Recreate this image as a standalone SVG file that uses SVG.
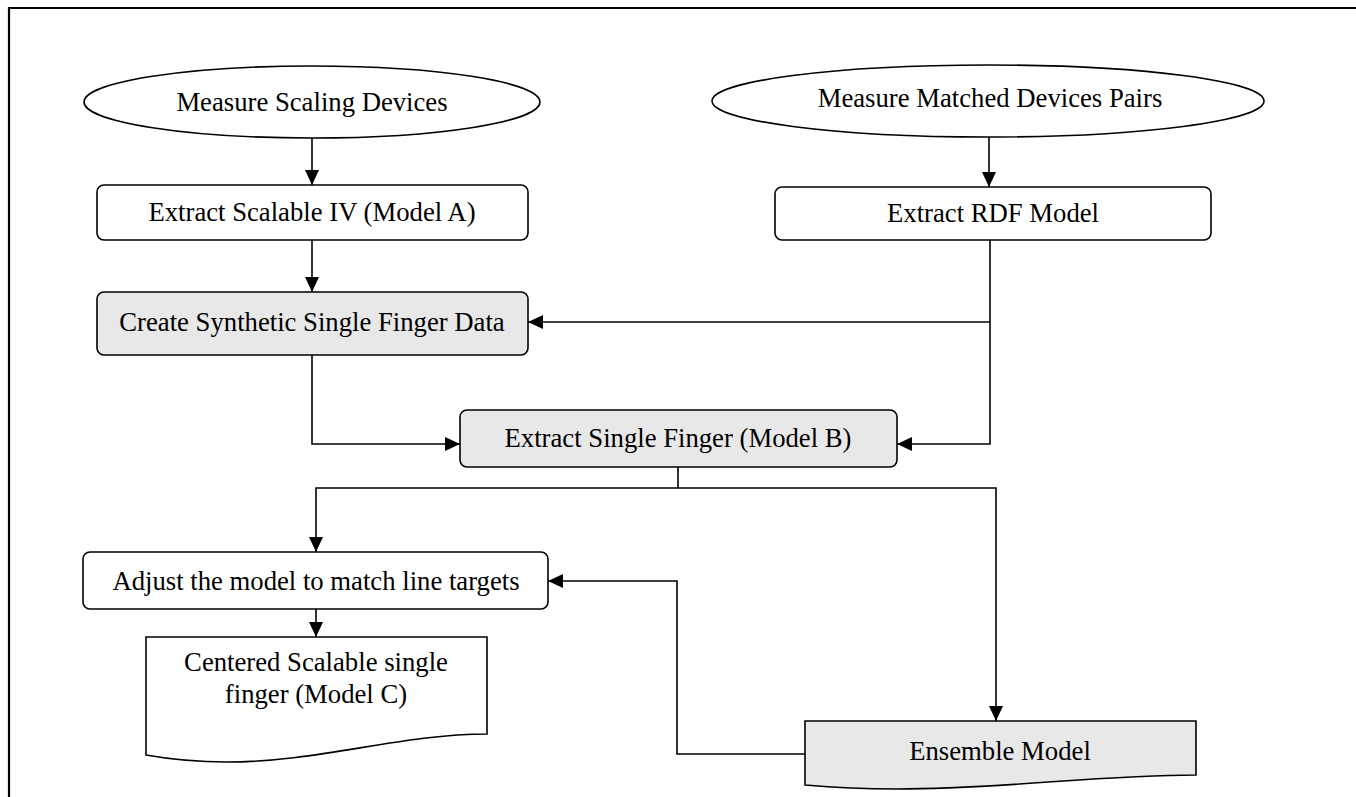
<svg xmlns="http://www.w3.org/2000/svg" width="1356" height="797" viewBox="0 0 1356 797">
<defs>
<marker id="arr" markerUnits="userSpaceOnUse" markerWidth="16" markerHeight="14" refX="15" refY="7" orient="auto">
<path d="M0,0 L15,7 L0,14 z" fill="#000"/>
</marker>
<style>
.n{stroke:#000;stroke-width:1.6;fill:#fff}
.g{fill:#e8e8e8}
.t{font-family:"Liberation Serif","Times New Roman",serif;font-size:26.7px;fill:#000;text-anchor:middle}
.c{fill:none;stroke:#000;stroke-width:1.6}
.a{marker-end:url(#arr)}
</style>
</defs>
<rect width="1356" height="797" fill="#fff"/>
<path d="M9,797 V8 H1356" fill="none" stroke="#000" stroke-width="2.2"/>
<g id="connectors">
<path class="c a" d="M312,138 V185"/>
<path class="c a" d="M312,240 V292"/>
<path class="c a" d="M989,137 V187"/>
<path class="c a" d="M990,240 V444 H897"/>
<path class="c a" d="M990,322 H528"/>
<path class="c a" d="M312,355 V444 H460"/>
<path class="c" d="M678,467 V488"/>
<path class="c a" d="M678,488 H316 V552"/>
<path class="c a" d="M678,488 H996 V721"/>
<path class="c a" d="M316,609 V637"/>
<path class="c a" d="M805,754 H677 V581 H548"/>
</g>
<g id="measure-scaling">
<ellipse class="n" cx="312" cy="102" rx="228" ry="36"/>
<text class="t" x="312" y="111">Measure Scaling Devices</text>
</g>
<g id="measure-matched">
<ellipse class="n" cx="988" cy="101" rx="276" ry="36"/>
<text class="t" x="990" y="107">Measure Matched Devices Pairs</text>
</g>
<g id="extract-scalable">
<rect class="n" x="97" y="185" width="431" height="55" rx="7"/>
<text class="t" x="312" y="221">Extract Scalable IV (Model A)</text>
</g>
<g id="extract-rdf">
<rect class="n" x="775" y="187" width="436" height="53" rx="7"/>
<text class="t" x="993" y="222">Extract RDF Model</text>
</g>
<g id="create-synthetic">
<rect class="n g" x="97" y="292" width="431" height="63" rx="7"/>
<text class="t" x="312" y="331">Create Synthetic Single Finger Data</text>
</g>
<g id="extract-single">
<rect class="n g" x="460" y="410" width="437" height="57" rx="7"/>
<text class="t" x="678" y="447">Extract Single Finger (Model B)</text>
</g>
<g id="adjust">
<rect class="n" x="83" y="552" width="465" height="57" rx="7"/>
<text class="t" x="316" y="590">Adjust the model to match line targets</text>
</g>
<g id="centered">
<path class="n" d="M146,637 H487 V734 C400,734 320,762 227,762 Q185,762 146,755 Z"/>
<text class="t" x="316" y="671">Centered Scalable single</text>
<text class="t" x="316" y="703">finger (Model C)</text>
</g>
<g id="ensemble">
<path class="n g" d="M805,721 H1196 V775 C1100,775 1000,789 897,789 Q850,789 805,785 Z"/>
<text class="t" x="1000" y="760">Ensemble Model</text>
</g>
</svg>
